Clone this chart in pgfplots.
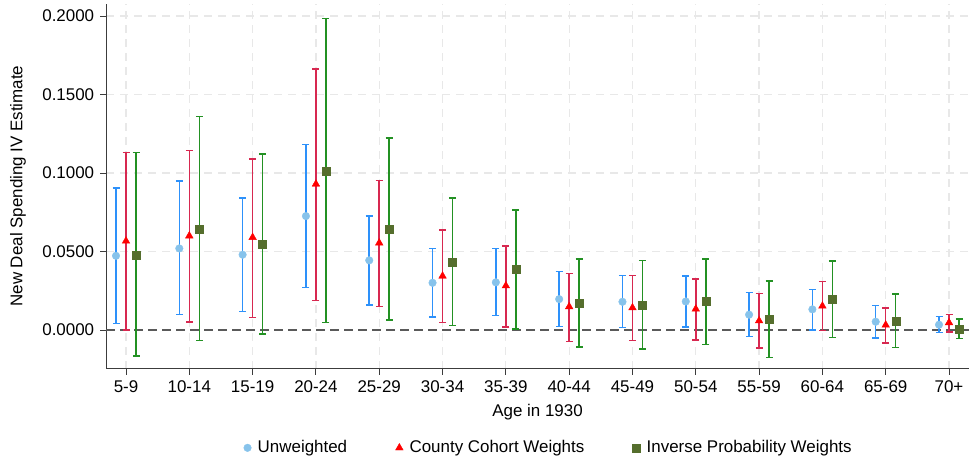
\documentclass[border=0pt]{standalone}
\usepackage{pgfplots}
\usepackage{pgfplotstable}
\pgfplotsset{compat=1.18}
\usepackage{fontspec}
\setmainfont{Liberation Sans}

\definecolor{ubar}{RGB}{45,145,250}
\definecolor{umark}{RGB}{135,195,235}
\definecolor{rbar}{RGB}{215,40,80}
\definecolor{rmark}{RGB}{255,0,0}
\definecolor{gbar}{RGB}{35,145,35}
\definecolor{gmark}{RGB}{85,110,45}
\definecolor{axgray}{RGB}{60,60,60}
\definecolor{gridgray}{RGB}{232,232,232}
\definecolor{zerogray}{RGB}{90,90,90}

\pgfplotstableread{
x y lo hi
0 0.0473 0.0043 0.0906
1 0.0520 0.0098 0.0950
2 0.0480 0.0117 0.0841
3 0.0726 0.0272 0.1183
4 0.0444 0.0159 0.0728
5 0.0301 0.0083 0.0518
6 0.0304 0.0093 0.0518
7 0.0197 0.0023 0.0374
8 0.0180 0.0015 0.0346
9 0.0182 0.0019 0.0344
10 0.0098 -0.0042 0.0238
11 0.0132 0.0000 0.0259
12 0.0053 -0.0051 0.0157
13 0.0034 -0.0015 0.0085
}\unweighted

\pgfplotstableread{
x y lo hi
0 0.0567 0.0000 0.1132
1 0.0600 0.0051 0.1145
2 0.0590 0.0081 0.1090
3 0.0930 0.0189 0.1663
4 0.0555 0.0151 0.0953
5 0.0344 0.0049 0.0637
6 0.0282 0.0021 0.0537
7 0.0149 -0.0074 0.0361
8 0.0142 -0.0068 0.0346
9 0.0134 -0.0062 0.0325
10 0.0059 -0.0115 0.0234
11 0.0153 -0.0004 0.0310
12 0.0032 -0.0083 0.0142
13 0.0047 -0.0013 0.0098
}\county

\pgfplotstableread{
x y lo hi
0 0.0480 -0.0166 0.1130
1 0.0645 -0.0068 0.1360
2 0.0550 -0.0025 0.1123
3 0.1013 0.0047 0.1983
4 0.0643 0.0064 0.1223
5 0.0433 0.0028 0.0841
6 0.0386 0.0008 0.0764
7 0.0172 -0.0108 0.0452
8 0.0161 -0.0121 0.0444
9 0.0182 -0.0091 0.0454
10 0.0068 -0.0176 0.0312
11 0.0197 -0.0047 0.0441
12 0.0059 -0.0110 0.0229
13 0.0008 -0.0055 0.0072
}\ipw

\begin{document}
\fontsize{17}{20}\selectfont
\begin{tikzpicture}[x=1bp,y=1bp]
\useasboundingbox (0,0) rectangle (969,462);
\begin{axis}[
  at={(106bp,93bp)}, anchor=south west,
  scale only axis, width=863bp, height=365bp,
  xmin=-0.316, xmax=13.316,
  ymin=-0.0248, ymax=0.2077,
  axis lines=left,
  axis line style={-, color=axgray, line width=1bp},
  tick align=outside,
  major tick length=6bp,
  tick style={color=axgray, line width=1bp},
  xtick={0,1,2,3,4,5,6,7,8,9,10,11,12,13},
  xticklabels={5-9,10-14,15-19,20-24,25-29,30-34,35-39,40-44,45-49,50-54,55-59,60-64,65-69,70+},
  ytick={0,0.05,0.1,0.15,0.2},
  yticklabel style={/pgf/number format/.cd, fixed, fixed zerofill, precision=4, assume math mode=true},
  grid=major,
  major grid style={color=gridgray, line width=1.2bp, dash pattern=on 8bp off 6bp},
  xlabel={Age in 1930},
  ylabel={New Deal Spending IV Estimate},
  xlabel style={at={(axis description cs:0.5,-0.117)}, anchor=center},
  ylabel style={at={(axis description cs:-0.102,0.501)}, anchor=center},
  legend columns=3,
  legend image code/.code={\path (0bp,-4bp) (16bp,4bp); \draw[#1] plot coordinates {(8bp,0bp)};},
  legend style={draw=none, fill=none, at={(axis description cs:0.5104,-0.216)}, anchor=center,
    /tikz/every even column/.append style={column sep=42bp}},
  clip=false,
]
\addplot[forget plot, color=zerogray, line width=1.2bp, dash pattern=on 9bp off 5bp] coordinates {(-0.316,0) (13.316,0)};

\addplot[only marks, mark=*, mark size=3.8bp, mark options={fill=umark, draw=umark},
  error bars/.cd, y dir=both, y explicit,
  error bar style={color=ubar, line width=1.5bp},
  error mark options={rotate=90, mark size=3.5bp, color=ubar, line width=1.5bp}]
  table[x expr=\thisrow{x}-0.158, y=y, y error plus expr=\thisrow{hi}-\thisrow{y}, y error minus expr=\thisrow{y}-\thisrow{lo}] {\unweighted};

\addplot[only marks, mark=triangle*, mark size=4.4bp, mark options={fill=rmark, draw=rmark},
  error bars/.cd, y dir=both, y explicit,
  error bar style={color=rbar, line width=1.5bp},
  error mark options={rotate=90, mark size=3.5bp, color=rbar, line width=1.5bp}]
  table[x=x, y=y, y error plus expr=\thisrow{hi}-\thisrow{y}, y error minus expr=\thisrow{y}-\thisrow{lo}] {\county};

\addplot[only marks, mark=square*, mark size=4bp, mark options={fill=gmark, draw=gmark},
  error bars/.cd, y dir=both, y explicit,
  error bar style={color=gbar, line width=1.5bp},
  error mark options={rotate=90, mark size=3.5bp, color=gbar, line width=1.5bp}]
  table[x expr=\thisrow{x}+0.158, y=y, y error plus expr=\thisrow{hi}-\thisrow{y}, y error minus expr=\thisrow{y}-\thisrow{lo}] {\ipw};

\legend{Unweighted, County Cohort Weights, Inverse Probability Weights}
\end{axis}
\end{tikzpicture}
\end{document}
